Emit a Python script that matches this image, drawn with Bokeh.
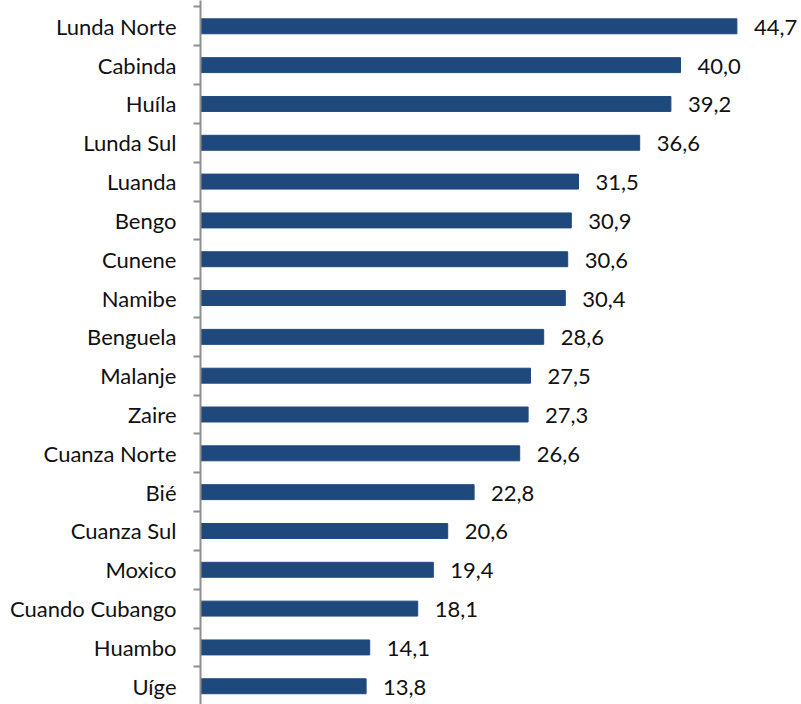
from bokeh.plotting import figure
from bokeh.models import ColumnDataSource, Range1d, FixedTicker
from bokeh.core.properties import value
from bokeh.embed import file_html
from bokeh.resources import INLINE

provinces = ["Lunda Norte", "Cabinda", "Huíla", "Lunda Sul", "Luanda", "Bengo",
             "Cunene", "Namibe", "Benguela", "Malanje", "Zaire", "Cuanza Norte",
             "Bié", "Cuanza Sul", "Moxico", "Cuando Cubango", "Huambo", "Uíge"]
values = [44.7, 40.0, 39.2, 36.6, 31.5, 30.9, 30.6, 30.4, 28.6, 27.5, 27.3, 26.6,
          22.8, 20.6, 19.4, 18.1, 14.1, 13.8]

FONT = "Lato"
n = len(provinces)
idx = list(range(n))
labels = [f"{v:.1f}".replace(".", ",") for v in values]

src = ColumnDataSource(dict(y=idx, v=values, lab=labels))

W, H = 801, 704
left_border = 200
band_px = 38.82
y_top = -0.5 - 6.4 / band_px
y_bottom = y_top + H / band_px
x_end = (W - left_border) / 12.0

p = figure(width=W, height=H, output_backend="svg", toolbar_location=None,
           x_range=Range1d(0, x_end), y_range=Range1d(y_bottom, y_top),
           min_border_left=left_border, min_border_right=0,
           min_border_top=0, min_border_bottom=0)
p.outline_line_color = None
p.xaxis.visible = False
p.xgrid.visible = False
p.ygrid.visible = False
p.background_fill_color = "white"
p.border_fill_color = "white"

p.hbar(y="y", left=0, right="v", height=0.385, source=src,
       fill_color="#1f497d", line_color="#1f497d", line_width=1)

p.text(x="v", y="y", text="lab", source=src, x_offset=17, y_offset=1,
       text_font=value(FONT), text_font_size="22px", text_color="#111111",
       text_baseline="middle", text_align="left")

ax = p.yaxis[0]
boundaries = [i - 0.5 for i in idx] + [n - 0.5]
ax.ticker = FixedTicker(ticks=idx, minor_ticks=boundaries)
ax.major_label_overrides = {i: name for i, name in zip(idx, provinces)}
ax.major_tick_line_color = None
ax.major_tick_out = 0
ax.major_tick_in = 0
ax.minor_tick_out = 7
ax.minor_tick_in = 0
ax.minor_tick_line_color = "#8e8e8e"
ax.minor_tick_line_width = 2
ax.axis_line_color = "#8e8e8e"
ax.axis_line_width = 2
ax.major_label_standoff = 17
ax.major_label_text_font = FONT
ax.major_label_text_font_size = "22px"
ax.major_label_text_color = "#111111"

open("out.html", "w").write(file_html(p, INLINE))
